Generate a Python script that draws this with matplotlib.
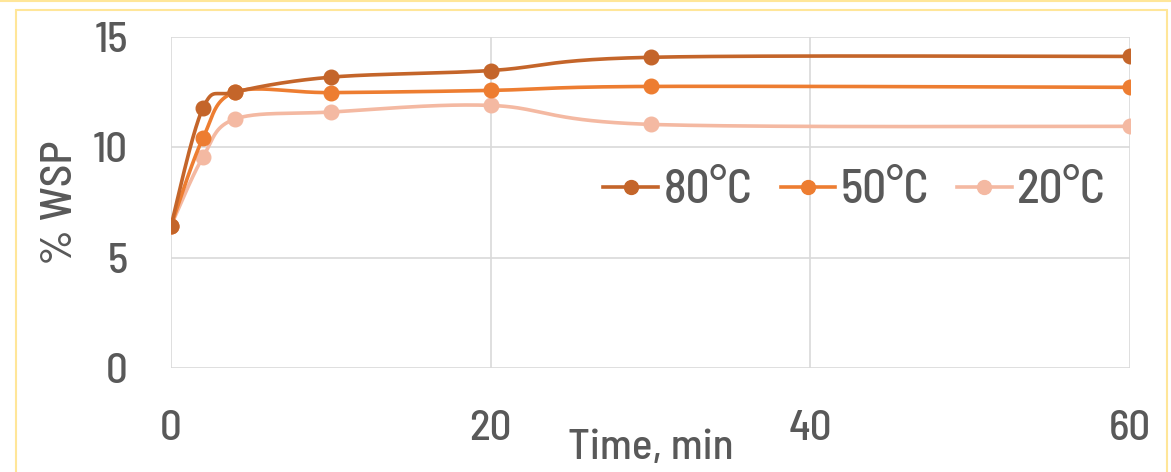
import numpy as np
import matplotlib
matplotlib.use('Agg')
import matplotlib.pyplot as plt
from matplotlib.patches import Rectangle
from matplotlib.lines import Line2D

plt.rcParams['font.family'] = ['Barlow Semi Condensed', 'DejaVu Sans']
plt.rcParams['font.weight'] = 500
plt.rcParams['axes.labelweight'] = 500

# dados
tempo = [0, 2, 4, 10, 20, 30, 60]
wsp_80 = [6.45, 11.78, 12.5, 13.18, 13.48, 14.08, 14.12]
wsp_50 = [6.45, 10.42, 12.5, 12.48, 12.58, 12.76, 12.72]
wsp_20 = [6.45, 9.56, 11.28, 11.6, 11.9, 11.04, 10.95]
series = ['80°C', '50°C', '20°C']
cores = ['#C4652A', '#ED7D31', '#F4B9A2']

cinza = '#595959'


def suave(x, y, n=40):
    # curva suavizada tipo excel (catmull-rom / bezier)
    x = np.array(x, float)
    y = np.array(y, float)
    P = np.column_stack([x * 16.0, y * 22.0])
    out = []
    for i in range(len(P) - 1):
        p0 = P[i - 1] if i > 0 else P[i]
        p1 = P[i]
        p2 = P[i + 1]
        p3 = P[i + 2] if i + 2 < len(P) else P[i + 1]
        c1 = p1 + (p2 - p0) / 6
        c2 = p2 - (p3 - p1) / 6
        t = np.linspace(0, 1, n)[:, None]
        b = (1 - t) ** 3 * p1 + 3 * (1 - t) ** 2 * t * c1 + 3 * (1 - t) * t ** 2 * c2 + t ** 3 * p2
        out.append(b)
    b = np.vstack(out)
    return b[:, 0] / 16.0, b[:, 1] / 22.0


fig = plt.figure(figsize=(11.71, 4.72), dpi=100)
ax = fig.add_axes([171 / 1171, 1 - 368 / 472, (1130 - 171) / 1171, (368 - 37) / 472])

dados = [wsp_80, wsp_50, wsp_20]
handles = []
for k in range(3):
    xs, ys = suave(tempo, dados[k])
    ax.plot(xs, ys, color=cores[k], lw=2.6, solid_capstyle='round', zorder=3 - k * 0.1)
    ax.plot(tempo, dados[k], 'o', color=cores[k], ms=10.5, zorder=3 - k * 0.1)
    handles.append(Line2D([], [], color=cores[k], lw=2.6, marker='o', ms=10))

ax.set_xlim(0, 60)
ax.set_ylim(0, 15)
ax.set_xticks([0, 20, 40, 60])
ax.set_yticks([0, 5, 10, 15])
ax.grid(True, color='#D9D9D9', lw=1.2)
ax.set_axisbelow(True)
for s in ax.spines.values():
    s.set_visible(False)
ax.tick_params(length=0, labelsize=31, colors=cinza)
ax.tick_params(axis='x', pad=30)
ax.tick_params(axis='y', pad=31)

ax.set_ylabel('% WSP', fontsize=32, color=cinza)
ax.yaxis.set_label_coords(-0.095, 0.5)
ax.set_xlabel('Time, min', fontsize=31, color=cinza)
ax.xaxis.set_label_coords(0.5, -0.185)

leg = ax.legend(handles, series, ncol=3, frameon=False, fontsize=34,
                loc='center', bbox_to_anchor=(0.713, 0.535), handlelength=1.15,
                handletextpad=0.12, columnspacing=0.6)
for t in leg.get_texts():
    t.set_color(cinza)

# moldura amarela
fig.add_artist(Rectangle((16 / 1171, -0.01), (1167 - 16) / 1171, 1 - 10 / 472 + 0.01,
                         transform=fig.transFigure, fill=False, ec='#FFE699', lw=1.5))
fig.add_artist(Line2D([0, 1], [0.998, 0.998], transform=fig.transFigure, color='#FFE699', lw=1.5))

fig.savefig('out.png', dpi=100)
